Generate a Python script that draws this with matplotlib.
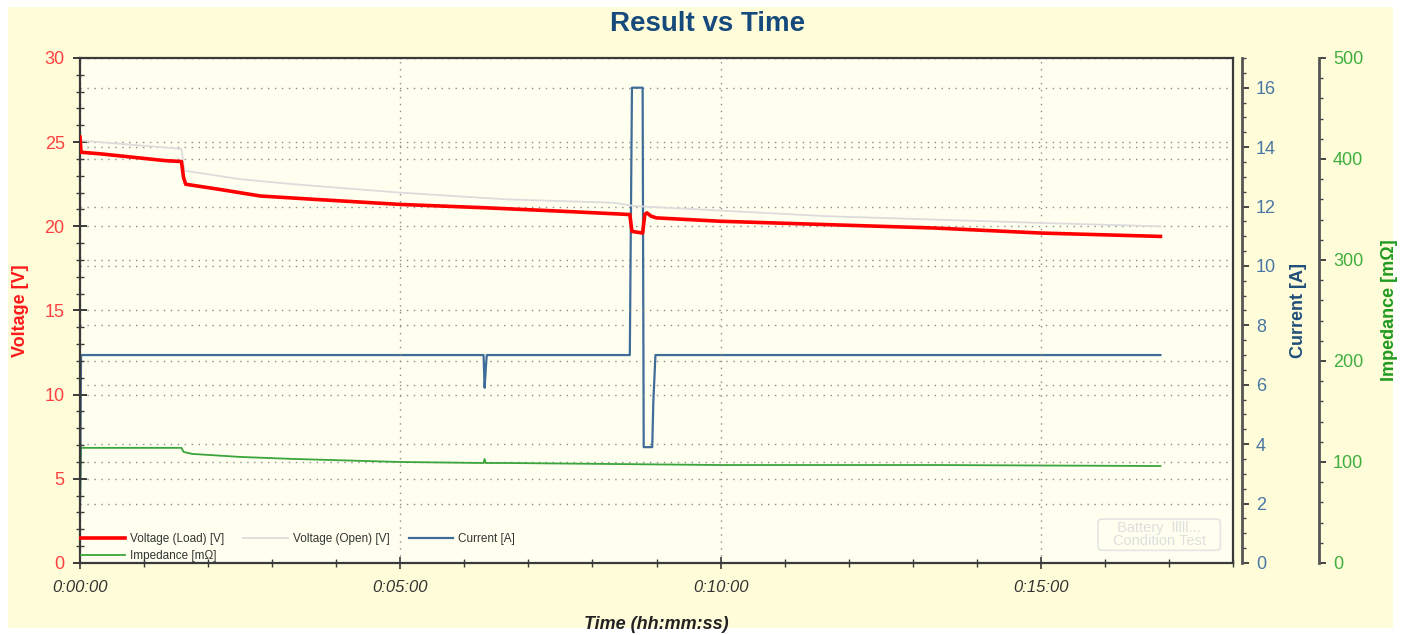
import numpy as np
import matplotlib.pyplot as plt
from matplotlib.patches import Rectangle, FancyBboxPatch
from matplotlib.ticker import MultipleLocator, FuncFormatter

plt.rcParams['font.family'] = ['Liberation Sans', 'DejaVu Sans']

# time in seconds since start of test
t_load = [0, 1, 20, 50, 80, 95, 97, 99, 130, 169, 220, 300, 380, 450, 515,
          517, 527, 529, 531, 535, 540, 600, 700, 800, 900, 1012]
v_load = [25.3, 24.4, 24.3, 24.1, 23.9, 23.85, 22.9, 22.5, 22.2, 21.8, 21.6, 21.3, 21.1, 20.9, 20.7,
          19.7, 19.6, 20.7, 20.8, 20.6, 20.5, 20.3, 20.1, 19.9, 19.6, 19.4]

t_open = [0, 95, 98, 150, 200, 300, 400, 500, 520, 581, 700, 800, 900, 1012]
v_open = [25.1, 24.6, 23.3, 22.8, 22.5, 22.0, 21.6, 21.4, 21.2, 21.0, 20.6, 20.4, 20.2, 20.0]

t_curr = [0, 1, 378, 379, 380, 381, 515, 517, 527, 528, 536, 537, 539, 1012]
current = [2.0, 7.0, 7.0, 5.9, 6.5, 7.0, 7.0, 16.0, 16.0, 3.9, 3.9, 5.4, 7.0, 7.0]

t_imp = [0, 1, 95, 97, 105, 150, 200, 300, 378, 379, 380, 400, 500, 600, 800, 1012]
impedance = [57, 114, 114, 110, 108, 105, 103, 100, 99, 103, 99, 99, 98, 97, 97, 96]

fig = plt.figure(figsize=(14.01, 6.35), dpi=100)
fig.patch.set_facecolor('white')
fig.patches.append(Rectangle((0.006, 0.011), 0.988, 0.978, transform=fig.transFigure,
                             facecolor='#fffdd9', edgecolor='none', zorder=-10))

ax = fig.add_axes([0.0571, 0.1134, 0.8230, 0.7953])
ax2 = ax.twinx()
ax3 = ax.twinx()

# voltage axis on top, background drawn by the lowest axes
ax3.set_zorder(1)
ax2.set_zorder(2)
ax.set_zorder(3)
ax.patch.set_visible(False)
ax3.patch.set_visible(True)
ax3.patch.set_facecolor('#fffff0')

spine_c = '#3a3a3a'
grid_kw = dict(color='#8a8a8a', linestyle=(0, (1, 4)), linewidth=1.0)

l_load, = ax.plot(t_load, v_load, color='#ff0000', lw=2.6, label='Voltage (Load) [V]', zorder=3)
l_open, = ax.plot(t_open, v_open, color='#dcdcdc', lw=1.3, label='Voltage (Open) [V]', zorder=2)
l_curr, = ax2.plot(t_curr, current, color='#3f6c99', lw=1.6, label='Current [A]')
l_imp, = ax3.plot(t_imp, impedance, color='#3aa53a', lw=1.3, label='Impedance [mΩ]')

ax.set_xlim(0, 1080)
ax.set_ylim(0, 30)
ax2.set_ylim(0, 17)
ax3.set_ylim(0, 500)

ax.xaxis.set_major_locator(MultipleLocator(300))
ax.xaxis.set_minor_locator(MultipleLocator(60))
ax.xaxis.set_major_formatter(FuncFormatter(
    lambda s, p: f"{int(s // 3600)}:{int(s % 3600 // 60):02d}:{int(s % 60):02d}"))
ax.yaxis.set_major_locator(MultipleLocator(5))
ax.yaxis.set_minor_locator(MultipleLocator(1))
ax2.yaxis.set_major_locator(MultipleLocator(2))
ax2.yaxis.set_minor_locator(MultipleLocator(0.5))
ax3.yaxis.set_major_locator(MultipleLocator(100))
ax3.yaxis.set_minor_locator(MultipleLocator(20))

for s in ax.spines.values():
    s.set_color(spine_c)
    s.set_linewidth(1.6)
for a in (ax2, ax3):
    for s in a.spines.values():
        s.set_visible(False)
    a.spines['right'].set_visible(True)
    a.spines['right'].set_color('#555555')
    a.spines['right'].set_linewidth(2.0)
ax2.spines['right'].set_position(('outward', 6.5))
ax3.spines['right'].set_position(('outward', 62))

ax.tick_params(axis='x', which='major', direction='inout', length=9, width=1.2,
               colors=spine_c, labelsize=12, pad=8)
ax.tick_params(axis='x', which='minor', direction='inout', length=6, width=1.0, colors=spine_c)
ax.tick_params(axis='y', which='major', direction='inout', length=10, width=1.4,
               colors=spine_c, labelsize=13, labelcolor='#ff4040', pad=6)
ax.tick_params(axis='y', which='minor', direction='inout', length=6, width=1.0, colors=spine_c)
for lab in ax.get_xticklabels():
    lab.set_fontstyle('italic')
    lab.set_color('#333333')

ax2.tick_params(axis='y', which='major', direction='out', length=5, width=1.4,
                colors='#444444', labelsize=13, labelcolor='#4a76a4', pad=5)
ax2.tick_params(axis='y', which='minor', direction='out', length=3, width=1.0, colors='#444444')
ax3.tick_params(axis='y', which='major', direction='out', length=5, width=1.4,
                colors='#444444', labelsize=13, labelcolor='#3fae3f', pad=5)
ax3.tick_params(axis='y', which='minor', direction='out', length=3, width=1.0, colors='#444444')

# dotted grids from each axis
for a in (ax, ax2, ax3):
    a.yaxis.grid(True, which='major', **grid_kw)
ax.xaxis.grid(True, which='major', **grid_kw)
for a in (ax, ax2, ax3):
    a.set_axisbelow(True)

fig.text(0.505, 0.962, 'Result vs Time', ha='center', va='center',
         fontsize=20, fontweight='bold', color='#174a7c')
ax.set_xlabel('Time (hh:mm:ss)', fontsize=13, fontweight='bold', fontstyle='italic', color='#222222')
ax.set_ylabel('Voltage [V]', fontsize=13, fontweight='bold', color='#ff1a1a')
ax2.set_ylabel('Current [A]', fontsize=13, fontweight='bold', color='#1f4e79')
ax3.set_ylabel('Impedance [mΩ]', fontsize=13, fontweight='bold', color='#1f9a1f')
ax.yaxis.set_label_coords(-0.044, 0.5)
ax2.yaxis.set_label_coords(1.049, 0.5)
ax3.yaxis.set_label_coords(1.128, 0.5)
ax.xaxis.set_label_coords(0.5, -0.105)

leg = ax.legend([l_load, l_imp, l_open, l_curr],
                [l_load.get_label(), l_imp.get_label(), l_open.get_label(), l_curr.get_label()],
                loc='lower left', ncol=3, frameon=False, fontsize=8.5, handlelength=3.8,
                handletextpad=0.4, columnspacing=1.6, labelspacing=0.45,
                borderaxespad=0.0, borderpad=0.05)
for txt in leg.get_texts():
    txt.set_color('#333333')

# faint product mark in the corner
ax.add_patch(FancyBboxPatch((0.886, 0.028), 0.1, 0.056, transform=ax.transAxes,
                            boxstyle='round,pad=0.003,rounding_size=0.005',
                            facecolor='none', edgecolor='#e4e4e4', lw=1.2, zorder=1))
ax.text(0.936, 0.056, 'Battery  lllll...\nCondition Test', transform=ax.transAxes,
        ha='center', va='center', fontsize=10.5, color='#dedede', linespacing=0.95, zorder=1)

fig.savefig('out.png', dpi=100, facecolor=fig.get_facecolor())
